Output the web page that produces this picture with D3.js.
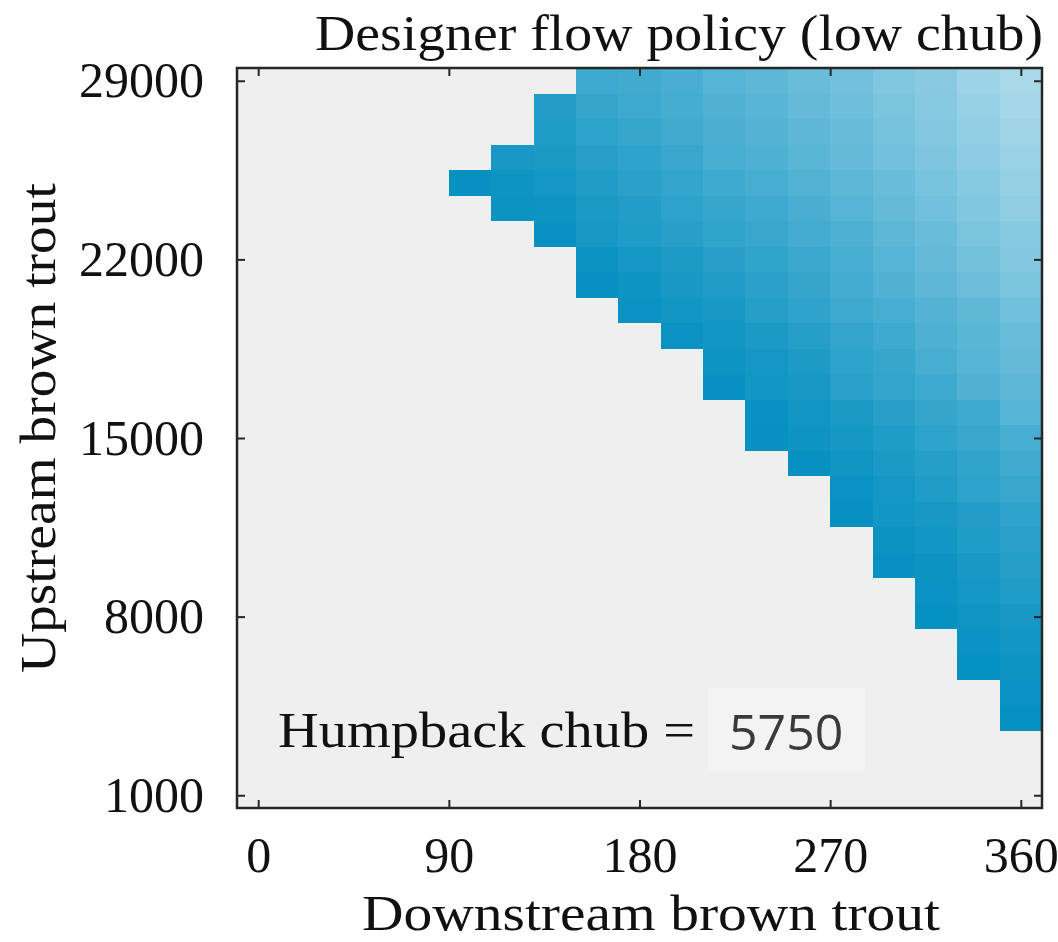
<!DOCTYPE html>
<html>
<head>
<meta charset="utf-8">
<script src="https://cdn.jsdelivr.net/npm/d3@7"></script>
<style>
  body { margin: 0; background: #fff; }
  text { font-family: "Liberation Serif", serif; fill: #111; }
</style>
</head>
<body>
<div id="chart"></div>
<script>
// columns that have a policy (downstream brown trout)
var downstream = [100, 120, 140, 160, 180, 200, 220, 240, 260, 280, 300, 320, 340, 360];
// lowest upstream brown trout row filled in each column
var upstreamStart = [25000, 24000, 23000, 21000, 20000, 19000, 17000, 15000, 14000, 12000, 10000, 8000, 6000, 4000];
// shade, rows going up by 1000 from upstreamStart
var policyShade = [
  [0.03],
  [0.06, 0.07, 0.12],
  [0.04, 0.07, 0.10, 0.13, 0.15, 0.17],
  [0.03, 0.06, 0.12, 0.13, 0.16, 0.19, 0.22, 0.26, 0.30],
  [0.05, 0.07, 0.10, 0.15, 0.17, 0.21, 0.23, 0.27, 0.30, 0.32],
  [0.05, 0.09, 0.12, 0.14, 0.19, 0.22, 0.25, 0.28, 0.32, 0.34, 0.36],
  [0.03, 0.07, 0.09, 0.12, 0.16, 0.19, 0.24, 0.27, 0.31, 0.35, 0.37, 0.39, 0.42],
  [0.03, 0.04, 0.09, 0.10, 0.13, 0.18, 0.21, 0.24, 0.28, 0.31, 0.35, 0.38, 0.41, 0.43, 0.46],
  [0.03, 0.07, 0.09, 0.12, 0.14, 0.18, 0.23, 0.26, 0.29, 0.33, 0.36, 0.40, 0.44, 0.46, 0.49, 0.52],
  [0.03, 0.05, 0.08, 0.11, 0.13, 0.20, 0.22, 0.25, 0.30, 0.33, 0.35, 0.38, 0.42, 0.45, 0.49, 0.51, 0.54, 0.56],
  [0.03, 0.06, 0.09, 0.10, 0.13, 0.15, 0.19, 0.25, 0.27, 0.31, 0.35, 0.39, 0.42, 0.46, 0.49, 0.52, 0.56, 0.58, 0.60, 0.63],
  [0.02, 0.05, 0.06, 0.09, 0.12, 0.16, 0.18, 0.22, 0.26, 0.31, 0.35, 0.38, 0.41, 0.46, 0.49, 0.52, 0.56, 0.59, 0.62, 0.64, 0.66, 0.67],
  [0.02, 0.05, 0.08, 0.10, 0.12, 0.15, 0.17, 0.22, 0.24, 0.28, 0.31, 0.39, 0.42, 0.44, 0.47, 0.53, 0.57, 0.60, 0.63, 0.66, 0.69, 0.72, 0.74, 0.77],
  [0.02, 0.05, 0.07, 0.09, 0.12, 0.15, 0.18, 0.20, 0.23, 0.28, 0.32, 0.35, 0.42, 0.46, 0.49, 0.52, 0.55, 0.60, 0.64, 0.66, 0.70, 0.73, 0.75, 0.78, 0.81, 0.83]
];
var xTicks = [0, 90, 180, 270, 360];
var yTicks = [1000, 8000, 15000, 22000, 29000];
var chubValue = "5750";

var W = 1058, H = 942;
var svg = d3.select("#chart").append("svg").attr("width", W).attr("height", H);

var x = d3.scaleLinear().domain([-10, 370]).range([237, 1042]);
var y = d3.scaleLinear().domain([500, 29500]).range([808, 68]);
var color = d3.scaleLinear().domain([0, 1]).range(["#008ebf", "#cce8f2"]);

// flatten cells
var cells = [];
for (var i = 0; i < downstream.length; i++) {
    for (var j = 0; j < policyShade[i].length; j++) {
        cells.push({ d: downstream[i], u: upstreamStart[i] + j * 1000, v: policyShade[i][j] });
    }
}

svg.append("rect").attr("x", x(-10)).attr("y", y(29500))
    .attr("width", x(370) - x(-10)).attr("height", y(500) - y(29500))
    .attr("fill", "#efefef");

svg.append("g").selectAll("rect").data(cells).enter().append("rect")
    .attr("x", function (c) { return x(c.d - 10); })
    .attr("y", function (c) { return y(c.u + 500); })
    .attr("width", function (c) { return x(c.d + 10) - x(c.d - 10); })
    .attr("height", function (c) { return y(c.u - 500) - y(c.u + 500); })
    .attr("fill", function (c) { return color(c.v); })
    .attr("shape-rendering", "crispEdges");

// axes, ticks pointing inward
var fmt = d3.format("d");
var gx = svg.append("g").attr("transform", "translate(0," + y(500) + ")")
    .call(d3.axisBottom(x).tickValues(xTicks).tickFormat(fmt).tickSize(-8).tickPadding(28));
var gy = svg.append("g").attr("transform", "translate(" + x(-10) + ",0)")
    .call(d3.axisLeft(y).tickValues(yTicks).tickFormat(fmt).tickSize(-8).tickPadding(33));
var gt = svg.append("g").attr("transform", "translate(0," + y(29500) + ")")
    .call(d3.axisTop(x).tickValues(xTicks).tickSize(-8).tickFormat(""));
var gr = svg.append("g").attr("transform", "translate(" + x(370) + ",0)")
    .call(d3.axisRight(y).tickValues(yTicks).tickSize(-8).tickFormat(""));

[gx, gy, gt, gr].forEach(function (g) {
    g.select(".domain").remove();
    g.selectAll(".tick line").attr("stroke", "#262626").attr("stroke-width", 2);
    g.selectAll(".tick text").attr("font-family", "Liberation Serif").attr("font-size", 50).attr("fill", "#111");
});

svg.append("rect").attr("x", x(-10)).attr("y", y(29500))
    .attr("width", x(370) - x(-10)).attr("height", y(500) - y(29500))
    .attr("fill", "none").attr("stroke", "#262626").attr("stroke-width", 2.5);

// labels
svg.append("text").attr("x", 315).attr("y", 50).attr("font-size", 50)
    .attr("textLength", 728).attr("lengthAdjust", "spacingAndGlyphs")
    .text("Designer flow policy (low chub)");

svg.append("text").attr("x", 651).attr("y", 930).attr("font-size", 50)
    .attr("text-anchor", "middle")
    .attr("textLength", 578).attr("lengthAdjust", "spacingAndGlyphs")
    .text("Downstream brown trout");

svg.append("text").attr("transform", "translate(55,428) rotate(-90)")
    .attr("font-size", 50).attr("text-anchor", "middle")
    .attr("textLength", 490).attr("lengthAdjust", "spacingAndGlyphs")
    .text("Upstream brown trout");

svg.append("text").attr("x", 278).attr("y", 747).attr("font-size", 50)
    .attr("textLength", 417).attr("lengthAdjust", "spacingAndGlyphs")
    .text("Humpback chub =");

svg.append("rect").attr("x", 708).attr("y", 688).attr("width", 157).attr("height", 84)
    .attr("fill", "#f3f3f3");
svg.append("text").attr("x", 729).attr("y", 750)
    .attr("font-family", "Open Sans").attr("font-size", 50).style("font-family", "'Open Sans'")
    .style("fill", "#3a3a3a")
    .text(chubValue);
</script>
</body>
</html>
